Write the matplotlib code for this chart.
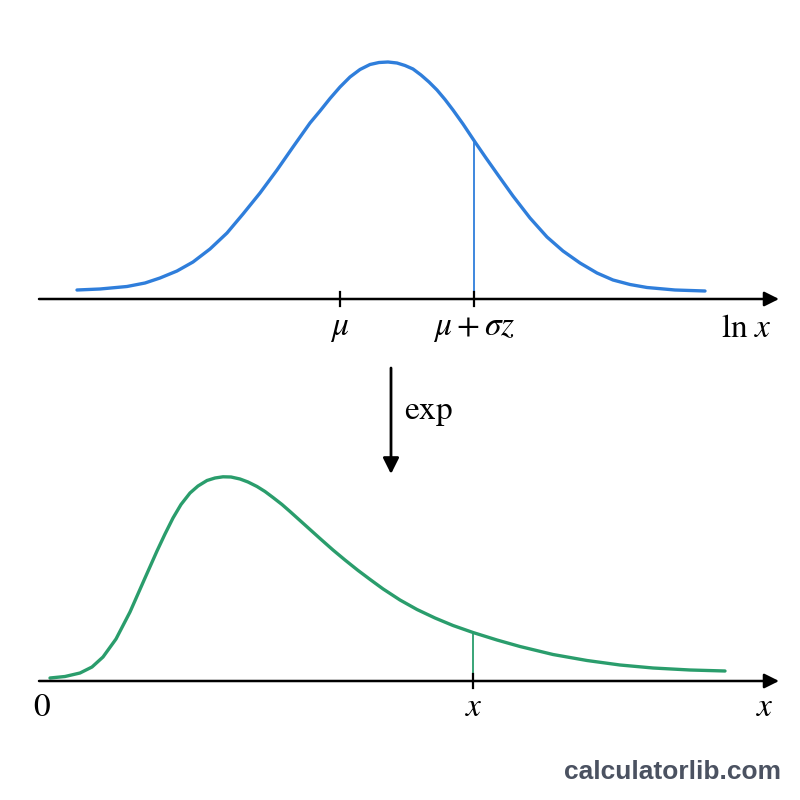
import matplotlib.pyplot as plt

plt.rcParams['mathtext.fontset'] = 'stix'
plt.rcParams['font.family'] = ['DejaVu Serif']

# top curve (normal density of ln x), picture coordinates
top_x = [77, 100, 127, 145, 160, 177, 193, 210, 227, 243, 260, 277, 293, 310, 320,
         330, 340, 350, 360, 370, 379, 388, 397, 405, 413, 421, 429, 437, 445, 453,
         463, 475, 486, 498, 513, 530, 547, 563, 580, 597, 613, 630, 647, 675, 705]
top_y = [290, 289, 286.5, 283, 278, 271, 262, 249, 233, 214, 193, 170, 147, 123, 111,
         98.5, 87, 77, 69.5, 64.5, 62.5, 62, 63, 65.5, 69, 75, 82, 90, 99.5, 110,
         124, 142, 158, 175, 196, 218, 237, 251, 263, 273, 280, 284.5, 287.5, 290, 291]

# bottom curve (lognormal density of x)
bot_x = [50, 65, 80, 92, 103, 116, 130, 145, 157, 165, 173, 181, 190, 198, 207,
         215, 223, 231, 240, 248, 257, 265, 273, 282, 290, 300, 310, 320, 333, 345,
         358, 370, 383, 400, 417, 435, 453, 473, 497, 520, 553, 587, 620, 653, 690, 725]
bot_y = [678, 676.5, 673, 667, 657, 639, 612, 578, 551, 534, 518, 504.5, 493, 486, 480.5,
         478, 476.8, 477, 479, 482, 486.5, 491.5, 497.5, 504.5, 511.5, 520.5, 529.5, 538.5, 550, 560,
         570.4, 579.4, 588.9, 600, 609.5, 618, 625.5, 632.5, 640, 646.5, 654.5, 660.5, 665, 668, 670, 671]

top_base = 299
bot_base = 681
mu_x = 340
cut_x = 474
cut_top_y = 143
cut_bot_y = 632

top_labels = [(mu_x, r'$\mu$'), (cut_x, r'$\mu + \sigma z$'), (None, r'$\ln\,x$')]
bot_labels = [(42, r'$0$'), (cut_x, r'$x$'), (None, r'$x$')]

blue = '#2f7edb'
green = '#2a9d6c'

fig = plt.figure(figsize=(8, 8), dpi=100)
ax = fig.add_axes([0, 0, 1, 1])
ax.set_xlim(0, 800)
ax.set_ylim(800, 0)
ax.axis('off')

# curves
ax.plot(top_x, top_y, color=blue, lw=2.4, solid_capstyle='round',
        solid_joinstyle='round', zorder=3)
ax.plot(bot_x, bot_y, color=green, lw=2.4, solid_capstyle='round',
        solid_joinstyle='round', zorder=3)

# vertical markers
ax.plot([cut_x, cut_x], [cut_top_y, top_base], color=blue, lw=1.3, zorder=2)
ax.plot([cut_x - 1, cut_x - 1], [cut_bot_y, bot_base], color=green, lw=1.3, zorder=2)

# axes with arrows
for base in (top_base, bot_base):
    ax.annotate('', xy=(779, base), xytext=(39, base),
                arrowprops=dict(arrowstyle='-|>', lw=1.8, color='black',
                                mutation_scale=22, shrinkA=0, shrinkB=0))

# ticks
for tx in (mu_x, cut_x):
    ax.plot([tx, tx], [top_base - 7, top_base + 7], color='black', lw=1.6)
ax.plot([cut_x - 1, cut_x - 1], [bot_base - 7, bot_base + 7], color='black', lw=1.6)

# labels
fs = 24
for lx, s in top_labels:
    if lx is None:
        ax.text(772, 328, s, fontsize=fs, ha='right', va='center')
    else:
        ax.text(lx, 328, s, fontsize=fs, ha='center', va='center')
for lx, s in bot_labels:
    if lx is None:
        ax.text(765, 707, s, fontsize=fs, ha='center', va='center')
    else:
        ax.text(lx, 707, s, fontsize=fs, ha='center', va='center')

# exp arrow
ax.annotate('', xy=(391, 474), xytext=(391, 368),
            arrowprops=dict(arrowstyle='-|>', lw=2.0, color='black',
                            mutation_scale=24, shrinkA=0, shrinkB=0))
ax.text(404, 412, r'$\mathrm{exp}$', fontsize=fs, ha='left', va='center')

# watermark
ax.text(781, 772, 'calculatorlib.com', fontsize=19, fontweight='bold',
        family='Liberation Sans', color='#4b5261', ha='right', va='center')

fig.savefig('out.png', dpi=100)
